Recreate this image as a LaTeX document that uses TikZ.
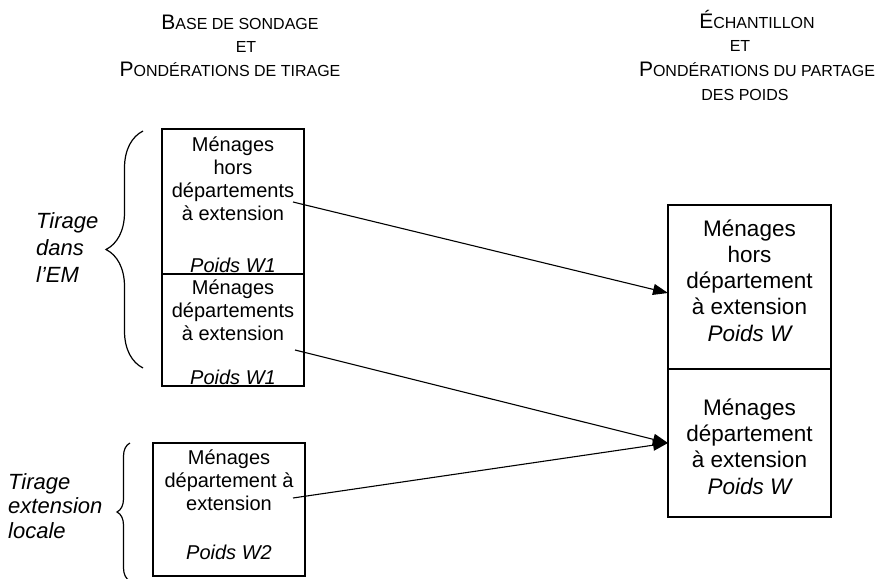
\documentclass[tikz,border=0pt]{standalone}
\usepackage{fontspec}
\setmainfont{Liberation Sans}
\usetikzlibrary{arrows.meta,positioning,calc,decorations.pathreplacing}
\tikzset{
  % boxes of the frame and of the sample
  cell/.style={draw, rectangle, line width=1.3pt, inner sep=0pt, outer sep=0pt},
  ltext/.style={align=center, inner sep=0pt, font=\fontsize{20}{23}\selectfont},
  rtext/.style={align=center, inner sep=0pt, font=\fontsize{22.5}{26.3}\selectfont},
  lab/.style={align=left, anchor=west, inner sep=0pt, font=\fontsize{22}{#1}\selectfont\itshape},
  head/.style={anchor=base, inner sep=0pt, font=\fontsize{16}{16}\selectfont},
  link/.style={-{Triangle[length=15pt,width=11pt]}, line width=1.1pt},
  brc/.style={decorate, decoration={brace, amplitude=#1}, line width=1.2pt}
}
\newcommand{\hdcap}[1]{{\fontsize{21}{21}\selectfont #1}}

\begin{document}
\begin{tikzpicture}[x=1pt, y=-1pt]
\useasboundingbox (0,0) rectangle (883,578);

% headers
\draw (240,30) node (hl1) [head] {\hdcap{B}ASE DE SONDAGE};
\draw (246,52.7) node (hl2) [head] {ET};
\draw (230,76) node (hl3) [head] {\hdcap{P}ONDÉRATIONS DE TIRAGE};

\draw (757,28.5) node (hr1) [head] {\hdcap{É}CHANTILLON};
\draw (740,51.7) node (hr2) [head] {ET};
\draw (757,76) node (hr3) [head] {\hdcap{P}ONDÉRATIONS DU PARTAGE};
\draw (745,100) node (hr4) [head] {DES POIDS};

% base de sondage
\draw (233,129) node (b1) [cell, anchor=north, minimum width=142pt, minimum height=145pt] {};
\draw (b1.south) node (b2) [cell, anchor=north, minimum width=142pt, minimum height=112pt] {};
\draw (229,443) node (b3) [cell, anchor=north, minimum width=152pt, minimum height=133pt] {};

\draw (233,179) node (t1) [ltext] {Ménages\\hors\\départements\\à extension};
\draw (233,265) node (w1) [ltext] {\itshape Poids W1};
\draw (233,310.5) node (t2) [ltext] {Ménages\\départements\\à extension};
\draw (233,377) node (w2) [ltext] {\itshape Poids W1};
\draw (229,480) node (t3) [ltext] {Ménages\\département à\\extension};
\draw (229,552) node (w3) [ltext] {\itshape Poids W2};

% echantillon
\draw (749.5,205) node (r1) [cell, anchor=north, minimum width=163pt, minimum height=164pt] {};
\draw (r1.south) node (r2) [cell, anchor=north, minimum width=163pt, minimum height=148pt] {};

\draw (749.5,280.5) node (u1) [rtext] {Ménages\\hors\\département\\à extension\\\itshape Poids W};
\draw (749.5,446.5) node (u2) [rtext] {Ménages\\département\\à extension\\\itshape Poids W};

% tirages
\draw (36,247.5) node (l1) [lab=27] {Tirage\\dans\\l’EM};
\draw (8,506) node (l2) [lab=24.5] {Tirage\\extension\\locale};

\coordinate (c1b) at (143,368);
\coordinate (c1t) at (143,131);
\draw [brc=37] (c1b) -- (c1t);
\coordinate (c2b) at (130,581);
\coordinate (c2t) at (130,443);
\draw [brc=13] (c2b) -- (c2t);

% partage des poids
\coordinate (s1) at (293,202);
\coordinate (s2) at (295,350);
\coordinate (s3) at (293,498);
\draw [link] (s1) -- ([yshift=-6pt]r1.west);
\draw [link] (s2) -- (r2.west);
\draw [link] (s3) -- (r2.west);

\end{tikzpicture}
\end{document}
